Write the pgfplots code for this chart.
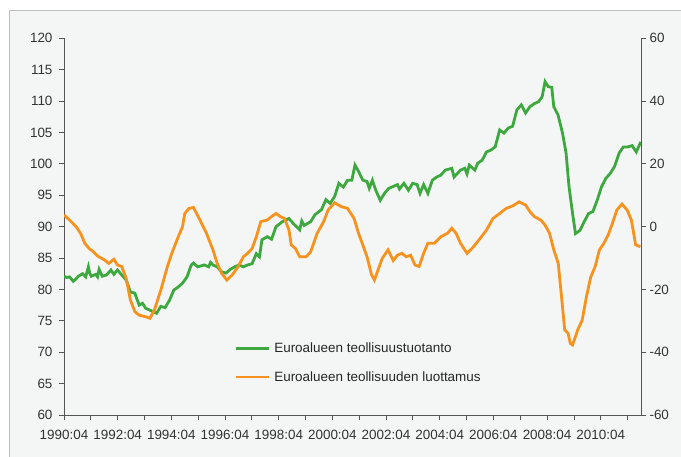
\documentclass[border=0pt]{standalone}
\usepackage{fontspec}
\setmainfont{Liberation Sans}
\usepackage{pgfplots}
\usepackage{pgfplotstable}
\pgfplotsset{compat=1.18}

\definecolor{prodgreen}{RGB}{60,168,62}
\definecolor{confor}{RGB}{247,146,30}
\definecolor{panel}{RGB}{244,246,245}
\definecolor{axgray}{RGB}{85,85,85}

% month index: 0 = 1990:04
\pgfplotstableread{
m v
0 82.1
1.2 81.9
2.5 82.0
4.1 81.3
5.2 81.6
6.4 82.1
8.3 82.5
9.7 82.0
10.9 83.6
11.5 82.6
12.2 82.1
14.2 82.4
15.0 82.0
15.7 83.2
17.1 82.1
19.0 82.3
21.0 83.1
22.3 82.4
23.9 83.1
25.8 82.3
27.8 81.5
29.7 79.6
31.7 79.4
33.6 77.5
35.1 77.8
36.5 77.0
38.4 76.7
41.4 76.2
43.3 77.3
45.2 77.1
47.2 78.3
49.1 79.9
51.1 80.4
53.0 81.0
55.0 82.0
56.9 83.9
57.9 84.2
59.8 83.6
62.7 83.9
64.7 83.6
65.5 84.3
66.6 83.9
68.5 83.6
70.5 82.8
72.4 82.6
74.4 83.2
76.3 83.6
78.3 83.9
80.2 83.6
82.1 83.9
84.1 84.1
86.0 85.7
87.4 85.2
88.5 87.9
90.9 88.4
92.8 88.0
94.8 90.0
97.7 90.8
100.6 91.3
102.5 90.5
105.4 89.5
106.3 90.9
107.4 90.2
110.3 90.8
112.2 91.9
115.1 92.7
117.1 94.3
119.0 93.7
121.0 94.8
122.9 96.9
124.9 96.3
126.8 97.4
128.7 97.4
130.1 99.8
131.7 98.8
133.6 97.4
135.5 97.2
136.5 96.1
137.9 97.4
139.4 95.8
141.4 94.2
143.3 95.3
145.2 96.1
147.2 96.4
149.1 96.7
150.0 96.0
152.0 96.9
154.0 95.8
155.9 96.9
157.9 96.7
159.2 95.3
160.8 96.7
162.7 95.3
164.7 97.4
166.6 97.9
168.5 98.2
170.5 99.0
173.4 99.3
174.4 97.9
177.3 99.0
179.2 99.3
180.2 98.4
181.2 99.8
183.7 99.0
185.0 100.1
187.0 100.6
188.9 101.9
190.9 102.2
192.8 102.7
194.8 105.4
196.7 104.9
198.6 105.7
200.6 106.0
202.5 108.6
204.5 109.4
206.4 108.1
208.3 109.1
210.3 109.6
212.2 109.9
213.8 110.7
215.1 113.1
216.5 112.3
218.1 112.2
219.0 109.1
220.9 107.8
222.9 104.9
224.5 101.7
225.8 96.4
227.4 92.1
228.7 88.9
230.7 89.4
232.6 90.8
234.6 92.1
236.5 92.4
238.4 94.2
240.4 96.4
242.3 97.7
244.3 98.5
246.2 99.6
248.2 101.7
250.1 102.7
252.0 102.7
254.0 102.9
255.9 101.9
257.9 103.5
}\prodtable

\pgfplotstableread{
m c
0 3.7
2.5 2.1
5.4 0
7.4 -2.1
9.3 -5.3
11.3 -7.0
13.2 -8.0
15.1 -9.4
18.1 -10.6
20.0 -11.7
22.3 -10.4
23.9 -12.2
25.8 -12.7
27.8 -16.5
29.7 -23.4
31.7 -27.1
33.6 -28.2
36.5 -28.7
38.4 -29.2
40.4 -26.6
43.3 -20.2
46.2 -12.8
48.2 -8.5
51.1 -3.2
53.0 0
54.0 4.2
55.9 5.8
57.9 6.1
60.8 2.1
63.7 -2.1
66.6 -7.4
68.5 -11.7
70.5 -14.9
72.8 -17.0
75.3 -15.3
77.9 -12.7
80.2 -9.6
82.1 -8.5
84.1 -7.0
86.0 -3.2
88.0 1.6
90.9 2.1
92.8 3.2
94.8 4.2
96.7 3.2
98.6 2.6
100.6 -1.1
101.6 -5.8
103.5 -7.0
105.4 -9.6
108.3 -9.6
110.3 -8.0
113.2 -2.1
116.1 1.6
118.1 5.3
121.0 7.6
123.9 6.4
126.8 5.8
129.7 2.6
131.7 -2.1
133.6 -5.8
135.5 -9.6
137.5 -15.3
138.8 -17.0
140.4 -13.8
142.3 -10.1
144.9 -7.4
147.2 -10.8
149.1 -9.1
151.1 -8.5
153.0 -9.6
155.0 -9.1
156.9 -12.2
158.8 -12.7
160.8 -8.5
162.7 -5.3
165.6 -5.3
168.5 -3.2
171.5 -2.1
173.4 -0.5
175.3 -2.1
177.3 -5.3
180.2 -8.5
183.1 -6.4
186.0 -3.8
188.9 -1.1
191.8 2.6
194.8 4.2
197.7 5.8
200.6 6.6
203.5 7.9
206.4 6.9
208.3 4.8
210.3 3.2
213.2 2.1
215.1 0.5
217.1 -2.1
219.0 -7.4
221.0 -11.7
222.3 -21.2
223.9 -32.9
225.4 -34.0
226.4 -37.2
227.4 -37.7
229.7 -32.9
231.7 -29.8
233.6 -22.3
235.5 -16.1
237.5 -12.7
239.4 -7.4
241.4 -5.3
243.3 -2.7
245.2 1.0
247.2 5.3
249.5 7.2
251.8 5.3
253.7 2.1
255.6 -5.8
257.7 -6.4
}\conftable

\pgfplotsset{
  common/.style={
    at={(64bp,42bp)}, anchor=south west,
    width=577bp, height=376.7bp, scale only axis,
    xmin=0, xmax=258,
    tick align=outside, major tick length=5bp,
    axis line style={axgray, line width=0.8bp},
    tick style={axgray, line width=0.8bp},
    tick label style={font=\fontsize{13.5}{15}\selectfont, text=black!80},
    /pgf/number format/assume math mode=true,
  },
}

\begin{document}
\begin{tikzpicture}
\useasboundingbox (0,0) rectangle (681bp,457bp);
\fill[panel] (9.5bp,-10bp) rectangle (700bp,447bp);
\draw[black!25, line width=0.8bp] (9.5bp,-10bp) -- (9.5bp,447bp) -- (700bp,447bp);

\begin{axis}[common,
    ymin=60, ymax=120,
    axis x line*=bottom, axis y line*=left,
    xtick={0,12,...,252},
    xticklabels={1990:04,,1992:04,,1994:04,,1996:04,,1998:04,,2000:04,,2002:04,,2004:04,,2006:04,,2008:04,,2010:04,},
    xticklabel style={yshift=-7bp},
    ytick={60,65,...,120},
    yticklabel style={xshift=-3bp},
]
\addplot[prodgreen, line width=2.8bp] table[x=m, y=v] {\prodtable};
\end{axis}

\begin{axis}[common,
    ymin=-60, ymax=60,
    axis x line=none, axis y line*=right,
    ytick={-60,-40,...,60},
    legend style={draw=none, fill=none, at={(0.29,0.202)}, anchor=north west,
      font=\fontsize{13.5}{15}\selectfont, row sep=13bp, text=black!85},
    legend cell align=left,
    legend image code/.code={\draw[#1] (0bp,0bp) -- (33bp,0bp); \path (35bp,0bp);},
]
\addlegendimage{prodgreen, line width=2.8bp}
\addlegendentry{Euroalueen teollisuustuotanto}
\addplot[confor, line width=2.8bp] table[x=m, y=c] {\conftable};
\addlegendentry{Euroalueen teollisuuden luottamus}
\end{axis}
\end{tikzpicture}
\end{document}
